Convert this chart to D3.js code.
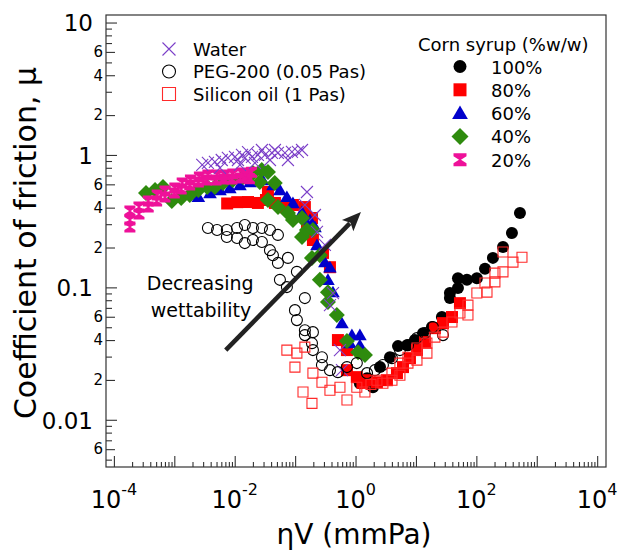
<!DOCTYPE html>
<html>
<head>
<meta charset="utf-8">
<script src="https://cdn.jsdelivr.net/npm/d3@7"></script>
<style>
body { margin: 0; background: #fff; }
text { font-family: "DejaVu Sans", sans-serif; fill: #000; }
</style>
</head>
<body>
<div id="chart"></div>
<script>
// values: [etaV (mmPa), mu]
var water = [[2.9e-3,0.84],[3.6e-3,0.87],[4.7e-3,0.885],[5.7e-3,0.80],[6.1e-3,0.916],[7.7e-3,0.949],[1.01e-2,0.966],[1.13e-2,0.916],[1.22e-2,0.84],[1.32e-2,1.0],[1.47e-2,0.949],[1.66e-2,1.05],[1.93e-2,0.966],[2.16e-2,0.87],[2.42e-2,1.0],[2.82e-2,1.09],[3.16e-2,1.0],[3.83e-2,0.916],[4.13e-2,1.035],[4.63e-2,1.09],[5.19e-2,1.035],[6.78e-2,1.035],[7.6e-2,0.916],[8.85e-2,1.053],[0.111,1.053],[0.13,1.09],[0.157,0.525],[0.145,0.419],[0.213,0.352],[0.23,0.262],[0.311,0.209],[0.423,0.0906],[0.377,0.0735],[0.552,0.0336],[0.596,0.0237]];

var peg = [[3.6e-3,0.281],[5.1e-3,0.271],[7.4e-3,0.271],[1.09e-2,0.281],[1.47e-2,0.296],[2.0e-2,0.281],[2.82e-2,0.281],[3.83e-2,0.271],[5.19e-2,0.249],[7.4e-3,0.24],[1.09e-2,0.236],[1.47e-2,0.216],[2.0e-2,0.228],[2.82e-2,0.22],[3.83e-2,0.191],[4.29e-2,0.175],[5.19e-2,0.153],[7.6e-2,0.167],[5.6e-2,0.114],[7.31e-2,0.1005],[0.107,0.131],[0.145,0.083],[0.0993,0.0673],[0.107,0.0566],[0.145,0.0475],[0.145,0.0436],[0.197,0.0459],[0.19,0.0379],[0.197,0.0336],[0.278,0.0297],[0.278,0.0259],[0.377,0.0237],[0.511,0.0229],[0.721,0.025],[1.05,0.0268],[1.55,0.0225],[2.09,0.0237],[2.84,0.0259],[4.01,0.0292],[5.43,0.0336],[7.38,0.0366],[10.4,0.0414],[14.1,0.0451],[19.1,0.0501],[28,0.0436]];

var silicon = [[7.3e-2,0.0336],[0.107,0.0319],[0.145,0.0354],[0.0993,0.025],[0.197,0.0225],[0.278,0.0192],[0.135,0.0162],[0.19,0.0133],[0.377,0.0167],[0.552,0.0176],[0.721,0.0141],[1.05,0.0176],[1.43,0.0162],[1.8,0.0185],[2.26,0.0199],[2.84,0.0189],[4.01,0.0199],[5.43,0.0217],[4.01,0.0225],[5.43,0.0268],[7.38,0.0268],[7.38,0.0297],[10.4,0.0282],[10.4,0.0348],[15.2,0.0319],[15.2,0.0379],[20.6,0.0421],[28,0.0459],[39.5,0.0547],[53.5,0.064],[72.6,0.0735],[72.6,0.0618],[102,0.0906],[150,0.092],[139,0.108],[203,0.11],[203,0.128],[276,0.131],[276,0.185],[404,0.155],[569,0.169]];

var syrup100 = [[1.18,0.0189],[1.55,0.0206],[1.94,0.0176],[2.54,0.025],[3.71,0.0297],[5.04,0.036],[7.1,0.0366],[9.6,0.04],[13.1,0.0451],[18.4,0.0501],[26.9,0.0597],[36.5,0.083],[36.5,0.0906],[49.6,0.0988],[49.6,0.117],[69.8,0.114],[102,0.117],[139,0.138],[188,0.167],[276,0.202],[388,0.257],[527,0.364]];

var syrup80 = [[7.5e-3,0.43],[1.1e-2,0.44],[1.66e-2,0.441],[2.42e-2,0.434],[3.29e-2,0.457],[3.55e-2,0.525],[4.63e-2,0.434],[6.78e-2,0.404],[9.2e-2,0.419],[0.145,0.404],[0.145,0.352],[0.19,0.334],[0.157,0.286],[0.197,0.228],[0.289,0.182],[0.377,0.142],[0.511,0.04],[0.721,0.0336],[0.721,0.0237],[1.05,0.021],[1.3,0.019],[1.55,0.0199],[2.26,0.0192],[3.31,0.0199],[4.85,0.0225],[6.1,0.025],[7.96,0.0292],[10.4,0.0336],[14.1,0.0386],[20.6,0.0492],[28,0.0537],[39.5,0.0597],[53.5,0.076]];

var syrup60 = [[2.5e-3,0.482],[3.9e-3,0.516],[5.7e-3,0.543],[8.3e-3,0.563],[1.22e-2,0.593],[1.8e-2,0.625],[2.9e-2,0.647],[4.3e-2,0.593],[5.6e-2,0.543],[7.3e-2,0.482],[9.2e-2,0.434],[0.13,0.371],[0.176,0.323],[0.213,0.286],[0.23,0.209],[0.311,0.155],[0.377,0.142],[0.349,0.114],[0.423,0.092],[0.596,0.0537],[0.871,0.0436],[1.18,0.0436],[1.18,0.0366],[0.807,0.0379]];

var syrup40 = [[3.4e-4,0.516],[4.8e-4,0.543],[6.5e-4,0.573],[9.1e-4,0.449],[1.3e-3,0.473],[1.8e-3,0.499],[2.5e-3,0.543],[3.5e-3,0.573],[4.7e-3,0.573],[6.4e-3,0.614],[9.3e-3,0.647],[1.37e-2,0.682],[2.0e-2,0.731],[2.8e-2,0.77],[3.55e-2,0.744],[2.6e-2,0.625],[4.6e-2,0.614],[3.55e-2,0.457],[5.2e-2,0.404],[7.6e-2,0.364],[9.2e-2,0.323],[0.13,0.334],[0.13,0.24],[0.157,0.271],[0.197,0.271],[0.19,0.167],[0.257,0.175],[0.257,0.114],[0.349,0.092],[0.349,0.0774],[0.49,0.0618],[0.72,0.0393],[1.1,0.0324],[1.43,0.0308]];

var syrup20 = [[1.84e-4,0.286],[1.84e-4,0.323],[1.84e-4,0.377],[2.6e-4,0.358],[2.6e-4,0.404],[3.7e-4,0.404],[3.7e-4,0.449],[5.1e-4,0.449],[5.2e-4,0.499],[7.0e-4,0.482],[7.0e-4,0.535],[1.0e-3,0.516],[1.02e-3,0.563],[1.3e-3,0.553],[1.35e-3,0.614],[1.8e-3,0.593],[1.85e-3,0.647],[2.5e-3,0.625],[2.6e-3,0.682],[3.4e-3,0.647],[3.6e-3,0.706],[4.9e-3,0.647],[5.1e-3,0.706],[6.6e-3,0.659],[6.9e-3,0.706],[9.0e-3,0.659],[9.3e-3,0.718],[1.25e-2,0.67],[1.3e-2,0.731],[1.6e-2,0.70],[1.75e-2,0.66],[1.9e-2,0.74]];

var fluidLabels = ["Water", "PEG-200 (0.05 Pas)", "Silicon oil (1 Pas)"];
var syrupTitle = "Corn syrup (%w/w)";
var syrupLabels = ["100%", "80%", "60%", "40%", "20%"];

var xExponents = [-4, -2, 0, 2, 4];
var yMajorTicks = [0.01, 0.1, 1, 10];
var yMajorLabels = ["0.01", "0.1", "1", "10"];
var yMinorLabeled = [2, 4, 6];

var arrowFrom = [7.1e-3, 0.0336], arrowTo = [1.23, 0.371];
var noteLines = ["Decreasing", "wettability"];
var noteAt = [3.5e-4, 0.095];

var width = 620, height = 551;
var svg = d3.select("#chart").append("svg")
  .attr("width", width)
  .attr("height", height);

var x = d3.scaleLog().domain([7.4e-5, 1.4e4]).range([106, 606]);
var y = d3.scaleLog().domain([0.0044, 11.4]).range([467, 15]);

// marker shapes
function shape(type, s){
  if (type == "circle") return d3.symbol(d3.symbolCircle, Math.PI * s * s)();
  if (type == "square") return "M" + (-s) + "," + (-s) + "H" + s + "V" + s + "H" + (-s) + "Z";
  if (type == "triangle") return "M0," + (-s) + "L" + (s * 1.05) + "," + (s * 0.8) + "H" + (-s * 1.05) + "Z";
  if (type == "diamond") return "M0," + (-s) + "L" + s + ",0L0," + s + "L" + (-s) + ",0Z";
  if (type == "bowtie") return "M" + (-s) + "," + (-s) + "H" + s + "V" + (-s * 0.55) + "L" + (s * 0.15) + ",0L" + s + "," + (s * 0.55) +
    "V" + s + "H" + (-s) + "V" + (s * 0.55) + "L" + (-s * 0.15) + ",0L" + (-s) + "," + (-s * 0.55) + "Z";
  if (type == "x") return "M" + (-s) + "," + (-s) + "L" + s + "," + s + "M" + s + "," + (-s) + "L" + (-s) + "," + s;
}

var series = [
  {data: syrup100, type: "circle",   fill: "#000",    stroke: "none",    s: 6,   ls: 6.5},
  {data: syrup80,  type: "square",   fill: "#ff0000", stroke: "none",    s: 6,   ls: 6.5},
  {data: syrup60,  type: "triangle", fill: "#0000cc", stroke: "none",    s: 6.5, ls: 7.5},
  {data: syrup40,  type: "diamond",  fill: "#2e8b0e", stroke: "none",    s: 8,   ls: 8.5},
  {data: syrup20,  type: "bowtie",   fill: "#ee1199", stroke: "none",    s: 5.5, ls: 6.5},
  {data: water,    type: "x",        fill: "none",    stroke: "#7b3fc8", s: 6,   ls: 6.5},
  {data: peg,      type: "circle",   fill: "none",    stroke: "#000",    s: 5.5, ls: 6.5},
  {data: silicon,  type: "square",   fill: "none",    stroke: "#ff2a2a", s: 5,   ls: 6.5}
];

// frame
svg.append("rect")
  .attr("x", 106).attr("y", 15)
  .attr("width", 500).attr("height", 452)
  .attr("fill", "none").attr("stroke", "#333").attr("stroke-width", 1.2);

// y axis, three passes for the three tick lengths
var yAll = [];
d3.range(-3, 2).forEach(function(e){
  d3.range(1, 10).forEach(function(k){
    var v = k * Math.pow(10, e);
    if (v >= 0.0044 && v <= 11.4) yAll.push(v);
  });
});
var yLead = function(v){ return Math.round(v / Math.pow(10, Math.floor(Math.log10(v) + 1e-9))); };

var gyMinor = svg.append("g").attr("transform", "translate(106,0)")
  .call(d3.axisLeft(y).tickValues(yAll.filter(function(v){ return yMinorLabeled.indexOf(yLead(v)) < 0 && yLead(v) != 1; }))
    .tickSizeInner(-6).tickSizeOuter(0).tickFormat(""));
var gyMid = svg.append("g").attr("transform", "translate(106,0)")
  .call(d3.axisLeft(y).tickValues(yAll.filter(function(v){ return yMinorLabeled.indexOf(yLead(v)) >= 0; }))
    .tickSizeInner(-9).tickSizeOuter(0).tickPadding(3).tickFormat(function(v){ return yLead(v); }));
gyMid.selectAll("text").style("font-size", "15px");
var gyMajor = svg.append("g").attr("transform", "translate(106,0)")
  .call(d3.axisLeft(y).tickValues(yMajorTicks)
    .tickSizeInner(-11).tickSizeOuter(0).tickPadding(13).tickFormat(function(v, i){ return yMajorLabels[i]; }));
gyMajor.selectAll("text").style("font-size", "23px").attr("dy", "0.36em");

// x axis
var xAll = [];
d3.range(-4, 5).forEach(function(e){
  d3.range(1, 10).forEach(function(k){
    var v = k * Math.pow(10, e);
    if (v <= 1.4e4) xAll.push(v);
  });
});
var gxMinor = svg.append("g").attr("transform", "translate(0,467)")
  .call(d3.axisBottom(x).tickValues(xAll.filter(function(v){ return Math.abs(Math.log10(v) - Math.round(Math.log10(v))) > 1e-6; }))
    .tickSizeInner(-5).tickSizeOuter(0).tickFormat(""));
var gxMajor = svg.append("g").attr("transform", "translate(0,467)")
  .call(d3.axisBottom(x).tickValues(d3.range(-4, 5).map(function(e){ return Math.pow(10, e); }))
    .tickSizeInner(-11).tickSizeOuter(0).tickFormat(""));

svg.selectAll(".domain").remove();
svg.selectAll(".tick line").attr("stroke", "#333").attr("stroke-width", 1.1);

var xLab = svg.append("g").selectAll("text").data(xExponents).enter()
  .append("text")
  .attr("x", function(d){ return x(Math.pow(10, d)); })
  .attr("y", 508)
  .attr("text-anchor", "middle")
  .style("font-size", "24px");
xLab.append("tspan").text("10");
xLab.append("tspan").attr("dy", -13).style("font-size", "16px").text(function(d){ return d; });

// axis titles
svg.append("text")
  .attr("transform", "translate(36,243) rotate(-90)")
  .attr("text-anchor", "middle")
  .style("font-size", "30px")
  .text("Coefficient of friction, \u03bc");

svg.append("text")
  .attr("x", 354).attr("y", 544)
  .attr("text-anchor", "middle")
  .style("font-size", "28px")
  .text("\u03b7V (mmPa)");

// data
var gData = svg.append("g");
series.forEach(function(sr){
  gData.append("g").selectAll("path").data(sr.data).enter()
    .append("path")
    .attr("transform", function(d){ return "translate(" + x(d[0]) + "," + y(d[1]) + ")"; })
    .attr("d", shape(sr.type, sr.s))
    .attr("fill", sr.fill)
    .attr("stroke", sr.stroke)
    .attr("stroke-width", 1.1);
});

// annotation arrow
var ax0 = x(arrowFrom[0]), ay0 = y(arrowFrom[1]), ax1 = x(arrowTo[0]), ay1 = y(arrowTo[1]);
var ang = Math.atan2(ay1 - ay0, ax1 - ax0), headLen = 19, headW = 8;
var bx = ax1 - headLen * Math.cos(ang), by = ay1 - headLen * Math.sin(ang);
svg.append("line")
  .attr("x1", ax0).attr("y1", ay0).attr("x2", bx + 3 * Math.cos(ang)).attr("y2", by + 3 * Math.sin(ang))
  .attr("stroke", "#222").attr("stroke-width", 4.5);
svg.append("path")
  .attr("d", "M" + ax1 + "," + ay1 +
    "L" + (bx + headW * Math.sin(ang)) + "," + (by - headW * Math.cos(ang)) +
    "L" + (bx + 4 * Math.cos(ang)) + "," + (by + 4 * Math.sin(ang)) +
    "L" + (bx - headW * Math.sin(ang)) + "," + (by + headW * Math.cos(ang)) + "Z")
  .attr("fill", "#222");

svg.append("g").selectAll("text").data(noteLines).enter()
  .append("text")
  .attr("x", function(d, i){ return x(noteAt[0]) + (i ? 4 : 0); })
  .attr("y", function(d, i){ return y(noteAt[1]) + i * 27; })
  .style("font-size", "19px")
  .text(function(d){ return d; });

// legend: fluids
var fluidSeries = [series[5], series[6], series[7]];
var gL1 = svg.append("g").selectAll("g").data(fluidLabels).enter()
  .append("g")
  .attr("transform", function(d, i){ return "translate(169," + (49 + i * 22.5) + ")"; });
gL1.append("path")
  .attr("d", function(d, i){ return shape(fluidSeries[i].type, fluidSeries[i].ls); })
  .attr("fill", "none")
  .attr("stroke", function(d, i){ return fluidSeries[i].stroke; })
  .attr("stroke-width", 1.1);
gL1.append("text")
  .attr("x", 24).attr("y", 6.5)
  .style("font-size", "18px")
  .text(function(d){ return d; });

// legend: corn syrup
svg.append("text")
  .attr("x", 418).attr("y", 50.5)
  .style("font-size", "18px")
  .text(syrupTitle);
var gL2 = svg.append("g").selectAll("g").data(syrupLabels).enter()
  .append("g")
  .attr("transform", function(d, i){ return "translate(460," + (66.5 + i * 23.3) + ")"; });
gL2.append("path")
  .attr("d", function(d, i){ return shape(series[i].type, series[i].ls); })
  .attr("fill", function(d, i){ return series[i].fill; });
gL2.append("text")
  .attr("x", 31).attr("y", 7)
  .style("font-size", "18px")
  .text(function(d){ return d; });
</script>
</body>
</html>
